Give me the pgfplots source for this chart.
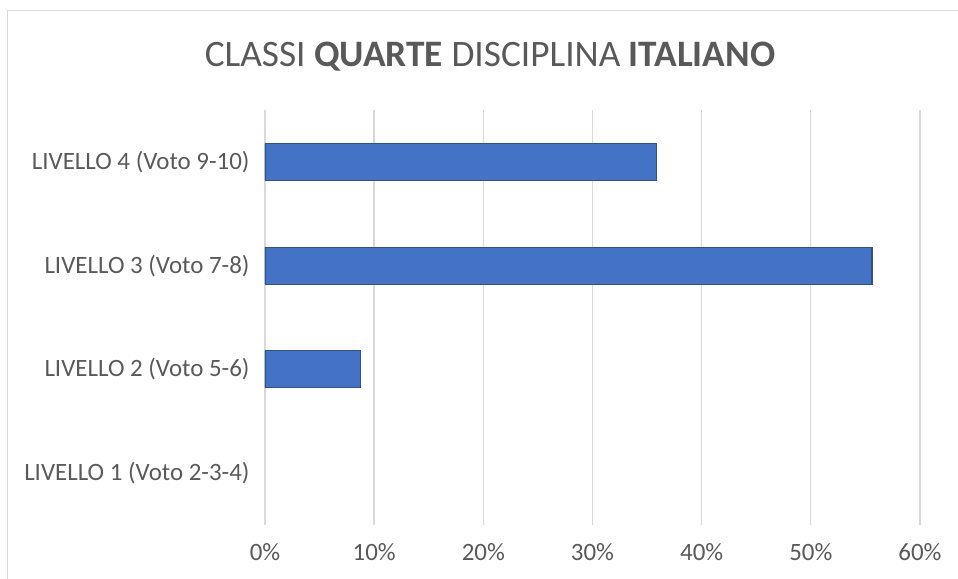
\documentclass[border=0pt]{standalone}
\usepackage{pgfplots}
\pgfplotsset{compat=1.18}
\usepackage{fontspec}
\setmainfont{Carlito}
\definecolor{barfill}{HTML}{4472C4}
\definecolor{baredge}{HTML}{2F528F}
\definecolor{gridc}{HTML}{D9D9D9}
\definecolor{txt}{HTML}{595959}
\begin{document}
\begin{tikzpicture}
\path[use as bounding box] (0,0) rectangle (718.5pt,434.25pt);
\draw[gridc, line width=1.1pt] (5.5pt,0) -- (5.5pt,426.2pt) -- (718.5pt,426.2pt);
\node[txt, font=\fontsize{28}{33}\selectfont] at (367.5pt,392pt) {CLASSI \textbf{QUARTE} DISCIPLINA \textbf{ITALIANO}};
\begin{axis}[
  at={(198.75pt,40.5pt)}, anchor=south west,
  scale only axis, width=491.25pt, height=311.25pt,
  xbar, xmin=0, xmax=60, ymin=-0.5, ymax=3.5,
  ytick={0,1,2,3},
  yticklabels={LIVELLO 1 (Voto 2-3-4), LIVELLO 2 (Voto 5-6), LIVELLO 3 (Voto 7-8), LIVELLO 4 (Voto 9-10)},
  xtick={0,10,20,30,40,50,60},
  xticklabel={\pgfmathprintnumber{\tick}\%},
  /pgf/number format/assume math mode=true,
  xmajorgrids, grid style={gridc, line width=1pt},
  axis line style={draw=none},
  major tick length=0pt,
  tick label style={txt, font=\fontsize{18.7}{22}\selectfont},
  xticklabel style={yshift=-10pt},
  yticklabel style={xshift=-8pt},
  bar width=27.75pt,
]
\addplot[fill=barfill, draw=baredge, line width=0.9pt] coordinates {(8.75,1) (55.6,2) (35.85,3)};
\end{axis}
\end{tikzpicture}
\end{document}
